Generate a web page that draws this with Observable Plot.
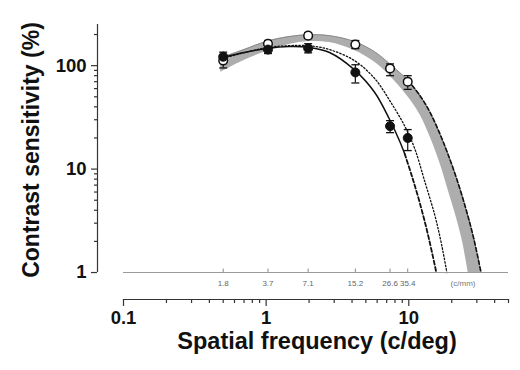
<!DOCTYPE html>
<html>
<head>
<meta charset="utf-8">
<script src="https://cdn.jsdelivr.net/npm/d3@7"></script>
<script src="https://cdn.jsdelivr.net/npm/@observablehq/plot@0.6"></script>
<style>
  html, body { margin: 0; padding: 0; background: #f6f6f6; }
  #chart { width: 520px; height: 370px; }
</style>
</head>
<body>
<div id="chart"></div>
<script>
// Measured spatial frequencies (c/deg) and their retinal equivalents (c/mm)
const cdeg = [0.5, 1.03, 1.97, 4.22, 7.39, 9.83];
const cmm = [1.8, 3.7, 7.1, 15.2, 26.6, 35.4];

// Open circles
const openS  = [112, 163, 195, 160, 94, 70];
const openLo = [95, 153, 183, 146, 80, 59];
const openHi = [125, 175, 209, 175, 104, 80];

// Filled circles
const filledS  = [122, 143, 147, 86, 26, 20];
const filledLo = [109, 131, 133, 68, 22.5, 15.1];
const filledHi = [135, 156, 163, 102, 29.4, 24.1];

// Gray band: upper (outer) edge and lower (inner) edge
const bandUpF = [0.48, 0.70, 1.0, 1.45, 2.0, 2.78, 4.16, 5.77, 7.35, 9.86, 11.9, 14.0, 16.5, 18.8, 21.7, 25.3, 28.6, 32.1];
const bandUpS = [119, 143, 171, 191, 199, 195, 171, 136, 104, 72, 52, 36, 22, 14, 8, 4, 2.1, 1];
const bandLoF = [0.48, 0.70, 1.0, 1.45, 2.0, 2.78, 4.16, 5.77, 7.35, 9.86, 11.9, 14.0, 16.5, 18.8, 21.7, 23.8, 25.0, 26.1];
const bandLoS = [86, 112, 137, 160, 171, 167, 140, 108, 80, 50, 34, 21, 11.5, 6.4, 3.3, 2.0, 1.4, 1];
const bandDashFrom = 9; // dashed outline on the outer edge starts at this index

// Fit through filled points: solid part, dashed extrapolation
const fitSolidF = [0.5, 0.7, 1.0, 1.45, 2.0, 2.78, 4.16, 5.77, 7.35, 8.65, 9.37];
const fitSolidS = [120, 134, 146, 153, 150, 134, 91, 55, 30, 18.5, 14];
const fitDashF = [9.37, 10.5, 11.9, 13.6, 15.6];
const fitDashS = [14, 8.6, 4.8, 2.35, 1];

// Dotted curve
const dotF = [0.5, 1.0, 1.45, 2.0, 2.78, 4.16, 5.77, 7.35, 9.37, 11.0, 12.9, 15.2, 16.8, 18.5];
const dotS = [118, 149, 156, 156, 143, 112, 75, 46, 26, 15.8, 7.7, 3.6, 2.0, 1];

// Axis ticks
const xMajor = [0.1, 1, 10];
const xMinor = [0.2, 0.3, 0.4, 0.5, 0.6, 0.7, 0.8, 0.9, 2, 3, 4, 5, 6, 7, 8, 9, 20, 30, 40, 50];
const yMajor = [1, 10, 100];
const yMinor = [2, 3, 4, 5, 6, 7, 8, 9, 20, 30, 40, 50, 60, 70, 80, 90, 200];
const yAxisTop = 250;
const cmmUnit = "(c/mm)";
const cmmUnitAt = 24;

const xTitle = "Spatial frequency (c/deg)";
const yTitle = "Contrast sensitivity (%)";

// Build tables
const openPts = cdeg.map((f, i) => ({f, s: openS[i], lo: openLo[i], hi: openHi[i]}));
const filledPts = cdeg.map((f, i) => ({f, s: filledS[i], lo: filledLo[i], hi: filledHi[i]}));
const band = bandUpF.map((f, i) => ({fUp: f, sUp: bandUpS[i], fLo: bandLoF[i], sLo: bandLoS[i]}));
const bandEdge = bandUpF.map((f, i) => ({f, s: bandUpS[i]}));
const bandEdgeDash = bandEdge.slice(bandDashFrom);
const fitSolid = fitSolidF.map((f, i) => ({f, s: fitSolidS[i]}));
const fitDash = fitDashF.map((f, i) => ({f, s: fitDashS[i]}));
const dotted = dotF.map((f, i) => ({f, s: dotS[i]}));
const cmmTicks = cdeg.map((f, i) => ({f, label: String(cmm[i])}));
const errCaps = [...openPts, ...filledPts].flatMap(d => [{f: d.f, s: d.lo}, {f: d.f, s: d.hi}]);

const capSym = {draw(ctx) { ctx.moveTo(-4, 0); ctx.lineTo(4, 0); }};
const upTickSym = {draw(ctx) { ctx.moveTo(0, 0); ctx.lineTo(0, -4); }};

const ink = "#111";
const font = "'Liberation Sans', Arial, Helvetica, sans-serif";

const chart = Plot.plot({
  width: 520,
  height: 370,
  marginLeft: 123,
  marginRight: 12,
  marginTop: 24,
  marginBottom: 71,
  x: {type: "log", domain: [0.1, 50]},
  y: {type: "log", domain: [0.5486, 250]},
  style: {fontFamily: font, background: "white", color: ink},
  marks: [
    // gray band
    Plot.area(band, {x1: "fLo", y1: "sLo", x2: "fUp", y2: "sUp", fill: "#adadad", curve: "catmull-rom"}),
    Plot.line(bandEdge, {x: "f", y: "s", stroke: "#8a8a8a", strokeWidth: 1, curve: "catmull-rom"}),
    Plot.line(bandEdgeDash, {x: "f", y: "s", stroke: ink, strokeWidth: 1.6, strokeDasharray: "4,2.5", curve: "catmull-rom"}),
    // dotted curve
    Plot.line(dotted, {x: "f", y: "s", stroke: ink, strokeWidth: 1.3, strokeDasharray: "1.5,2", curve: "catmull-rom"}),
    // fit through filled data
    Plot.line(fitSolid, {x: "f", y: "s", stroke: ink, strokeWidth: 1.5, curve: "catmull-rom"}),
    Plot.line(fitDash, {x: "f", y: "s", stroke: ink, strokeWidth: 1.8, strokeDasharray: "4,2.5", curve: "catmull-rom"}),
    // c/mm secondary scale along S = 1
    Plot.ruleY([1], {stroke: "#9a9a9a", strokeWidth: 1}),
    Plot.dot(cmmTicks, {x: "f", y: 1, symbol: upTickSym, stroke: "#888", fill: "none", strokeWidth: 1}),
    Plot.text(cmmTicks, {x: "f", y: 1, text: "label", dy: 11, fontSize: 8, fill: "#666"}),
    Plot.text([cmmUnit], {x: cmmUnitAt, y: 1, text: d => d, dy: 11, fontSize: 8, fill: "#777"}),
    // error bars
    Plot.ruleX(openPts, {x: "f", y1: "lo", y2: "hi", stroke: ink, strokeWidth: 1.2}),
    Plot.ruleX(filledPts, {x: "f", y1: "lo", y2: "hi", stroke: ink, strokeWidth: 1.2}),
    Plot.dot(errCaps, {x: "f", y: "s", symbol: capSym, stroke: ink, fill: "none", strokeWidth: 1.3}),
    // data points
    Plot.dot(openPts, {x: "f", y: "s", r: 4.3, fill: "white", stroke: ink, strokeWidth: 1.5}),
    Plot.dot(filledPts, {x: "f", y: "s", r: 4.5, fill: ink, stroke: ink, strokeWidth: 1}),
    // x axis
    Plot.frame({anchor: "bottom", stroke: "#333", strokeWidth: 1.2}),
    Plot.axisX({ticks: xMinor, tickSize: 4, tickFormat: () => "", label: null, stroke: "#333", strokeWidth: 1.2}),
    Plot.axisX({ticks: xMajor, tickSize: 7, tickPadding: 4, tickFormat: d => String(d), label: null,
      fontSize: 18.5, fontWeight: "bold", fill: ink, stroke: "#333", strokeWidth: 1.2}),
    // y axis (offset to the left of the plot frame)
    Plot.ruleX([0.1], {y1: 1, y2: yAxisTop, dx: -26, stroke: "#333", strokeWidth: 1.2}),
    Plot.axisY({ticks: yMinor, tickSize: 3, tickFormat: () => "", label: null, dx: -26, stroke: "#333", strokeWidth: 1.2}),
    Plot.axisY({ticks: yMajor, tickSize: 6, tickPadding: 5, tickFormat: d => String(d), label: null, dx: -26,
      fontSize: 18.5, fontWeight: "bold", fill: ink, stroke: "#333", strokeWidth: 1.2}),
    // axis titles
    Plot.text([xTitle], {frameAnchor: "bottom", text: d => d, dx: 1, dy: 49, fontSize: 23.5, fontWeight: "bold", fill: ink}),
    Plot.text([yTitle], {frameAnchor: "left", text: d => d, rotate: -90, textAnchor: "middle", lineAnchor: "middle",
      dx: -92, dy: -12, fontSize: 23, fontWeight: "bold", fill: ink})
  ]
});
document.getElementById("chart").appendChild(chart);
</script>
</body>
</html>
